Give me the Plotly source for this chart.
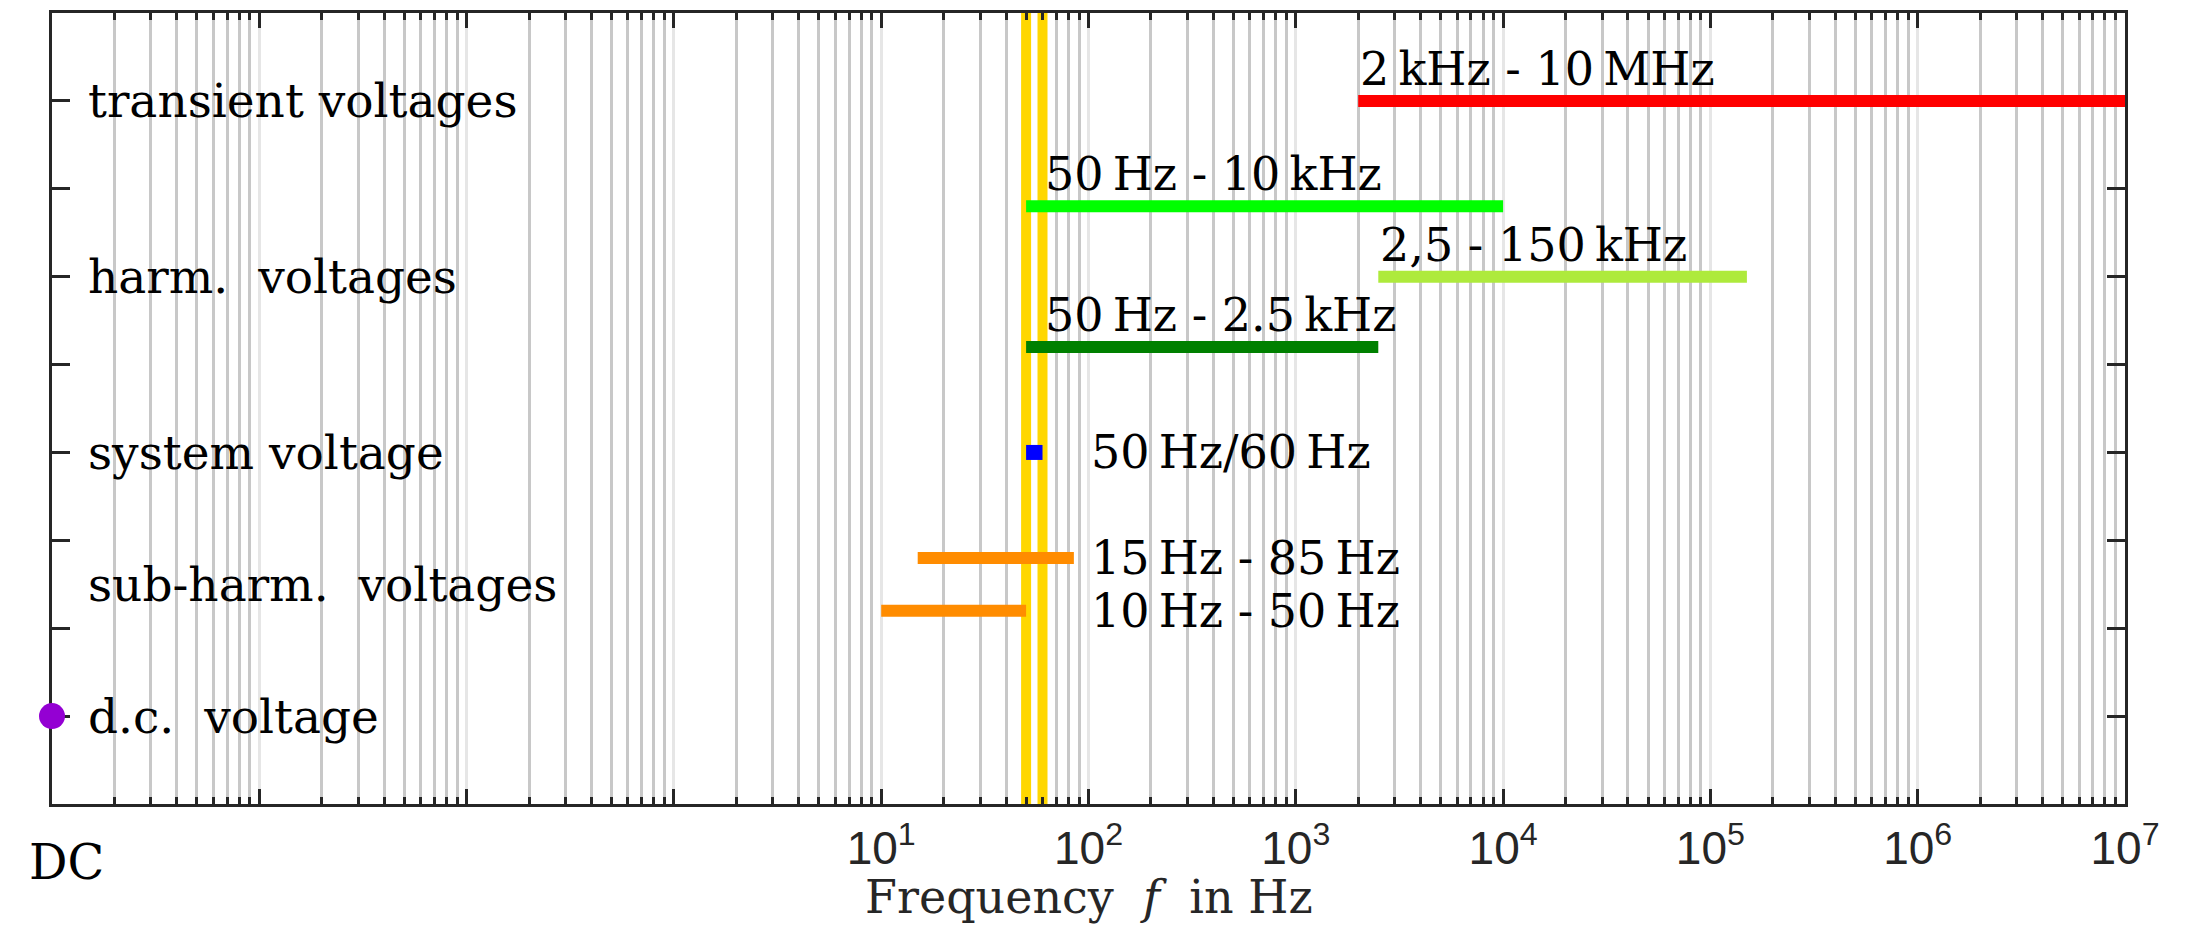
import numpy as np
import plotly.graph_objects as go

# ---------------- data ----------------
categories = ["transient voltages", "harm.  voltages", "system voltage",
              "sub-harm.  voltages", "d.c.  voltage"]
category_y = [8, 6, 4, 2.5, 1]

range_labels = ["2\u2009kHz - 10\u2009MHz", "50\u2009Hz - 10\u2009kHz",
                "2,5 - 150\u2009kHz", "50\u2009Hz - 2.5\u2009kHz",
                "15\u2009Hz - 85\u2009Hz", "10\u2009Hz - 50\u2009Hz"]
range_start = [2e3, 50, 2.5e3, 50, 15, 10]
range_end = [1e7, 1e4, 150e3, 2.5e3, 85, 50]
range_y = [8, 6.8, 6, 5.2, 2.8, 2.2]
range_label_x = [2e3, 60, 2.5e3, 60, 100, 100]

system_label = "50\u2009Hz/60\u2009Hz"
system_range = [50, 60]
system_y = 4
system_label_x = 100

mains_freqs = [50, 60]

dc_x = 1e-3
dc_y = 1

major_exp = list(range(-3, 8))
major_vals = [10.0 ** e for e in major_exp]
major_text = ["", "", "", ""] + ["10<sup>%d</sup>" % e for e in range(1, 8)]
minor_vals = [k * 10.0 ** e for e in range(-3, 7) for k in range(2, 10)]

# ---------------- style ----------------
range_colors = ["#FF0000", "#00FF00", "#AEEA3C", "#008000", "#FF8C00", "#FF8C00"]
range_label_pos = ["above", "above", "above", "above", "right", "right"]
y_range = [0, 9]
SERIF = "DejaVu Serif"
SANS = "Liberation Sans, Arial, sans-serif"
AX = "#262626"
CAT_SIZE = 47
RNG_SIZE = 46

fig = go.Figure()

for f in mains_freqs:
    fig.add_trace(go.Scatter(x=[f, f], y=y_range, mode="lines",
                             line=dict(color="#FFD700", width=10),
                             hoverinfo="skip", showlegend=False))

for s, e, y, c in zip(range_start, range_end, range_y, range_colors):
    fig.add_trace(go.Scatter(x=[s, e], y=[y, y], mode="lines",
                             line=dict(color=c, width=12),
                             showlegend=False))

fig.add_trace(go.Scatter(x=system_range, y=[system_y, system_y], mode="lines",
                         line=dict(color="#0000FF", width=15), showlegend=False))

fig.add_trace(go.Scatter(x=[dc_x], y=[dc_y], mode="markers",
                         marker=dict(color="#9400D3", size=26, symbol="circle"),
                         cliponaxis=False, showlegend=False))

annotations = []
for txt, y in zip(categories, category_y):
    annotations.append(dict(x=np.log10(dc_x), y=y, xref="x", yref="y", text=txt,
                            showarrow=False, xanchor="left", yanchor="middle",
                            xshift=34, font=dict(family=SERIF, size=CAT_SIZE, color="black")))

for txt, lx, y, pos in zip(range_labels, range_label_x, range_y, range_label_pos):
    annotations.append(dict(x=np.log10(lx), y=y, xref="x", yref="y", text=txt,
                            showarrow=False, xanchor="left", yanchor="middle",
                            yshift=32 if pos == "above" else 0,
                            font=dict(family=SERIF, size=RNG_SIZE, color="black")))

annotations.append(dict(x=np.log10(system_label_x), y=system_y, xref="x", yref="y",
                        text=system_label, showarrow=False, xanchor="left",
                        yanchor="middle", font=dict(family=SERIF, size=RNG_SIZE, color="black")))

annotations.append(dict(x=np.log10(dc_x), y=-0.035, xref="x", yref="paper", text="DC",
                        showarrow=False, xanchor="center", yanchor="top", xshift=14,
                        font=dict(family=SERIF, size=48, color="black")))

annotations.append(dict(x=0.5, y=-0.1535, xref="paper", yref="paper",
                        text="Frequency\u00a0 <i>f</i>\u00a0 in Hz", showarrow=False,
                        xanchor="center", yanchor="bottom", borderpad=0,
                        font=dict(family=SERIF, size=46, color="#262626")))

fig.update_layout(
    width=2191, height=926,
    margin=dict(l=52, r=66, t=10, b=122),
    paper_bgcolor="white", plot_bgcolor="white",
    annotations=annotations,
    showlegend=False,
)

fig.update_xaxes(
    type="log", range=[-3, 7],
    tickmode="array", tickvals=major_vals, ticktext=major_text,
    ticks="inside", ticklen=15, tickwidth=3, tickcolor=AX,
    showline=True, linewidth=3, linecolor=AX, mirror="ticks",
    showgrid=True, gridcolor="#E6E6E6", gridwidth=3,
    tickfont=dict(family=SANS, size=46, color=AX),
    ticklabelstandoff=2,
    zeroline=False,
    minor=dict(tickmode="array", tickvals=minor_vals, ticks="inside",
               ticklen=7, tickwidth=3, tickcolor=AX,
               showgrid=True, gridcolor="#C8C8C8", gridwidth=3),
)

fig.update_yaxes(
    range=y_range, tickmode="array", tickvals=list(range(1, 9)),
    showticklabels=False,
    ticks="inside", ticklen=18, tickwidth=3, tickcolor=AX,
    showline=True, linewidth=3, linecolor=AX, mirror="ticks",
    showgrid=False, zeroline=False, layer="below traces",
)

fig.write_html("out.html", config={"displayModeBar": False},
               post_script="document.body.style.margin='0';")
